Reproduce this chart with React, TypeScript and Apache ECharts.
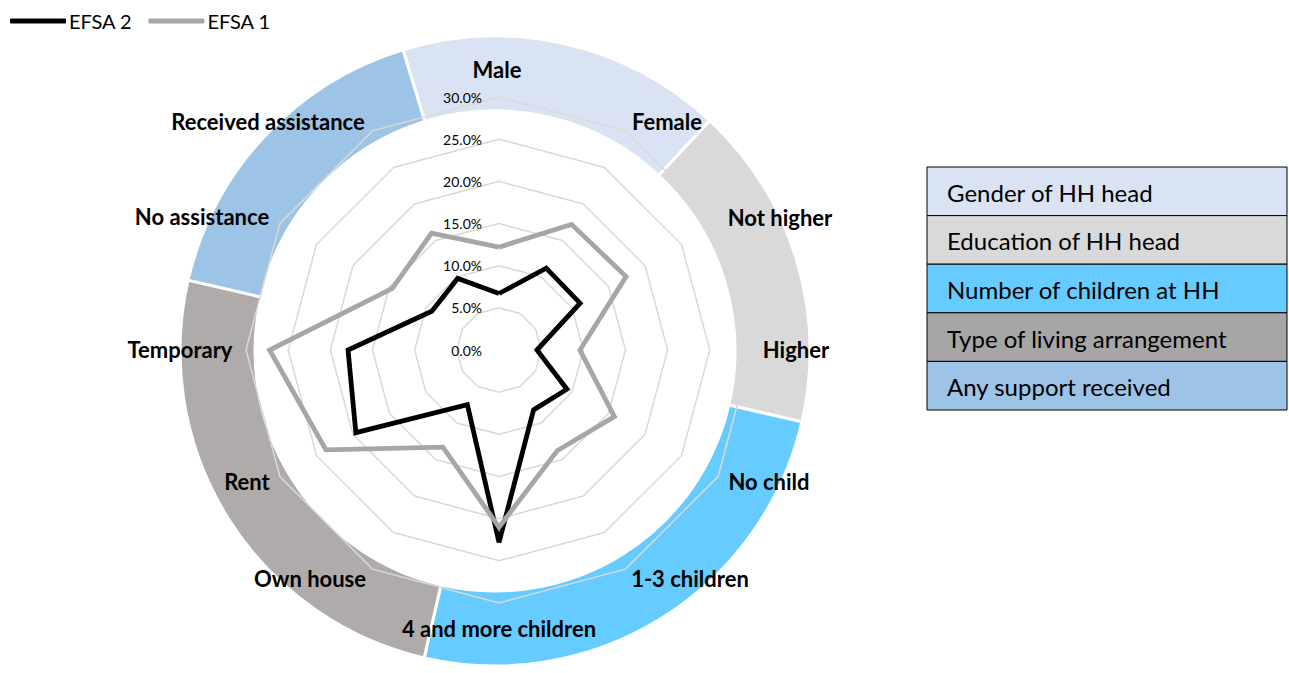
import React, { useEffect, useRef } from 'react';
import * as echarts from 'echarts';

const categories = [
  'Male', 'Female', 'Not higher', 'Higher', 'No child', '1-3 children',
  '4 and more children', 'Own house', 'Rent', 'Temporary', 'No assistance', 'Received assistance',
];
const efsa2 = [6.7, 11.2, 11.1, 4.5, 9.3, 8.2, 22.8, 7.5, 19.6, 17.9, 9.2, 9.8];
const efsa1 = [12.2, 17.2, 17.4, 9.6, 15.8, 13.8, 21.0, 13.3, 23.7, 27.2, 14.6, 16.0];
const seriesNames = ['EFSA 2', 'EFSA 1'];
const groups = [
  'Gender of HH head', 'Education of HH head', 'Number of children at HH',
  'Type of living arrangement', 'Any support received',
];
const groupSizes = [2, 2, 3, 3, 2];
const scaleMax = 30;
const scaleStep = 5;

// styling / layout (not data)
const ringColors = ['#DAE3F3', '#D9D9D9', '#66CCFF', '#AFABAB', '#9DC3E6'];
const legendColors = ['#DAE3F3', '#D9D9D9', '#66CCFF', '#A6A6A6', '#9DC3E6'];
const lineColors = ['#000000', '#A6A6A6'];
const labelPos: number[][] = [
  [497, 69], [667, 121], [780, 217], [796, 349], [769, 481], [690, 578],
  [499, 628], [310, 578], [247, 481], [180, 349], [202, 216], [268, 121],
];
const CX = 499, CY = 350, R = 253;
const FONT = 'Lato, "Open Sans", sans-serif';

export default function App() {
  const ref = useRef<HTMLDivElement>(null);
  useEffect(() => {
    if (!ref.current) return;
    const chart = echarts.init(ref.current, undefined, { renderer: 'svg' });
    // ECharts radar runs counter-clockwise; reorder so categories run clockwise
    const order = [0, ...categories.map((_, i) => categories.length - 1 - i).slice(0, categories.length - 1)];
    const graphics: any[] = [];
    categories.forEach((c, i) => {
      graphics.push({
        type: 'text', z: 100,
        style: {
          text: c, x: labelPos[i][0], y: labelPos[i][1],
          font: `bold 22px ${FONT}`, fill: '#000',
          align: 'center', verticalAlign: 'middle',
          textAlign: 'center', textVerticalAlign: 'middle',
        },
      });
    });
    const bx = 927, by = 167, bw = 360, bh = 48.6;
    groups.forEach((g, i) => {
      graphics.push({
        type: 'rect', z: 100,
        shape: { x: bx, y: by + i * bh, width: bw, height: bh },
        style: { fill: legendColors[i], stroke: '#000', lineWidth: 1 },
      });
      graphics.push({
        type: 'text', z: 101,
        style: {
          text: g, x: bx + 20, y: by + i * bh + bh / 2 + 1,
          font: `24px ${FONT}`, fill: '#000',
          align: 'left', verticalAlign: 'middle',
          textAlign: 'left', textVerticalAlign: 'middle',
        },
      });
    });

    const option: any = {
      animation: false,
      backgroundColor: '#fff',
      legend: {
        data: seriesNames,
        left: 5, top: 6,
        icon: 'roundRect', itemWidth: 56, itemHeight: 5, itemGap: 16,
        textStyle: { fontSize: 20, color: '#000', fontFamily: FONT, padding: [0, 0, 0, -2] },
      },
      grid: { left: CX - 10, top: CY - R, width: 10, height: R },
      xAxis: { type: 'value', show: false },
      yAxis: {
        type: 'value', min: 0, max: scaleMax, interval: scaleStep,
        axisLine: { show: false }, axisTick: { show: false }, splitLine: { show: false },
        axisLabel: {
          formatter: (v: number) => v.toFixed(1) + '%',
          fontSize: 14, color: '#000', fontFamily: FONT, margin: 7,
        },
        z: 20,
      },
      radar: {
        center: [CX, CY], radius: R, startAngle: 90, shape: 'polygon',
        splitNumber: scaleMax / scaleStep, z: 5,
        indicator: order.map(i => ({ name: categories[i], min: 0, max: scaleMax })),
        axisName: { show: false },
        axisLine: { show: false },
        axisTick: { show: false },
        axisLabel: { show: false },
        splitArea: { show: false },
        splitLine: { lineStyle: { color: '#D9D9D9', width: 1.5 } },
      },
      series: [
        {
          type: 'pie', z: 1, silent: true,
          center: [495, 351], radius: [240, 315], startAngle: 107, clockwise: true,
          label: { show: false }, labelLine: { show: false },
          itemStyle: { borderColor: '#fff', borderWidth: 3 },
          data: groups.map((g, i) => ({ name: g, value: groupSizes[i], itemStyle: { color: ringColors[i] } })),
        },
        ...[efsa2, efsa1].map((vals, k) => ({
          type: 'radar', name: seriesNames[k], z: 10, symbol: 'none',
          itemStyle: { color: lineColors[k] },
          lineStyle: { color: lineColors[k], width: 4.8, join: 'miter' },
          data: [{ name: seriesNames[k], value: order.map(i => vals[i]) }],
        })),
      ],
      graphic: graphics,
    };
    chart.setOption(option);
    return () => chart.dispose();
  }, []);
  return <div ref={ref} style={{ position: 'absolute', left: 0, top: 0, width: 1289, height: 673 }} />;
}
